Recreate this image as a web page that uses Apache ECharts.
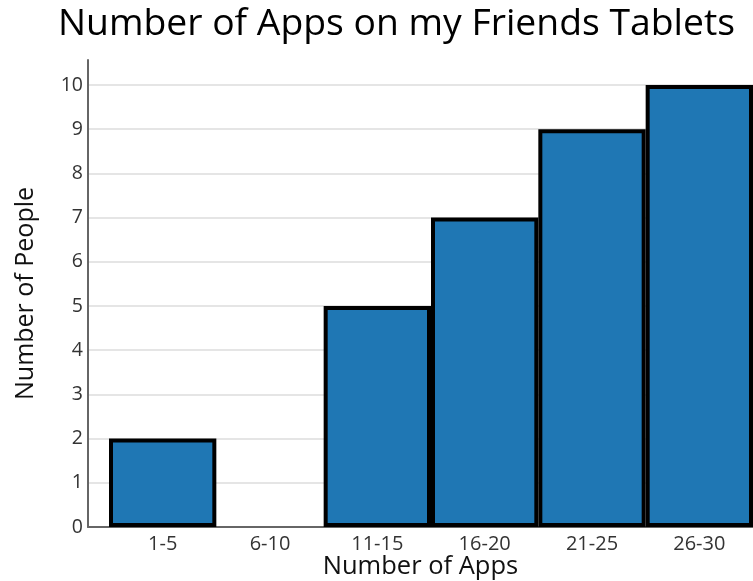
<!DOCTYPE html>
<html>
<head>
<meta charset="utf-8">
<script src="https://cdn.jsdelivr.net/npm/echarts@6/dist/echarts.min.js"></script>
<style>html,body{margin:0;padding:0;background:#fff}#c{width:753px;height:581px}</style>
</head>
<body>
<div id="c"></div>
<script>
const categories = ['1-5', '6-10', '11-15', '16-20', '21-25', '26-30'];
const people = [2, 0, 5, 7, 9, 10];
const yTicks = [0, 1, 2, 3, 4, 5, 6, 7, 8, 9, 10];

const FONT = '"Open Sans", "Noto Sans", sans-serif';
const chart = echarts.init(document.getElementById('c'));
const yMax = yTicks[yTicks.length - 1];
const gridBase = { outerBoundsMode: 'none', containLabel: false };
chart.setOption({
  animation: false,
  backgroundColor: '#fff',
  title: {
    text: 'Number of Apps on my Friends Tablets',
    left: 53, top: 1,
    textStyle: { fontFamily: FONT, fontSize: 37.3, fontWeight: 'normal', color: '#000' }
  },
  grid: [
    Object.assign({ left: 109, right: 0, top: 85, bottom: 54 }, gridBase),
    Object.assign({ left: 88, right: 0, top: 60, bottom: 54 }, gridBase),
    Object.assign({ left: 88, right: 0, top: 85, bottom: 54 }, gridBase)
  ],
  xAxis: [
    { type: 'category', gridIndex: 0, data: categories,
      axisLine: { show: false }, axisTick: { show: false },
      axisLabel: { margin: 7, fontFamily: FONT, fontSize: 20, color: '#333' } },
    { type: 'value', gridIndex: 1, min: 0, max: 1,
      axisLine: { show: true, onZero: false, lineStyle: { color: '#666', width: 2 } },
      axisTick: { show: false }, axisLabel: { show: false }, splitLine: { show: false },
      name: 'Number of Apps', nameLocation: 'middle', nameGap: 27,
      nameTextStyle: { fontFamily: FONT, fontSize: 25.5, color: '#111', verticalAlign: 'top' } },
    { type: 'value', gridIndex: 2, min: 0, max: 1, show: false }
  ],
  yAxis: [
    { type: 'value', gridIndex: 0, min: 0, max: yMax, show: false },
    { type: 'value', gridIndex: 1, min: 0, max: 1,
      axisLine: { show: true, onZero: false, lineStyle: { color: '#666', width: 2 } },
      axisTick: { show: false }, axisLabel: { show: false }, splitLine: { show: false },
      name: 'Number of People', nameLocation: 'middle', nameGap: 50,
      nameTextStyle: { fontFamily: FONT, fontSize: 25, color: '#111' } },
    { type: 'value', gridIndex: 2, min: 0, max: yMax, interval: 1,
      axisLine: { show: false }, axisTick: { show: false },
      axisLabel: { margin: 5, fontFamily: FONT, fontSize: 19.5, color: '#333',
        formatter: v => yTicks.includes(v) ? String(v) : '' },
      splitLine: { show: true, lineStyle: { color: '#dcdcdc', width: 1.5 } } }
  ],
  series: [{
    type: 'bar', xAxisIndex: 0, yAxisIndex: 0,
    data: people.map(v => v === 0 ? { value: v, itemStyle: { borderWidth: 0 } } : v),
    barWidth: '100%', barCategoryGap: '0%',
    itemStyle: { color: '#1f77b4', borderColor: '#000', borderWidth: 4 },
    z: 5
  }]
});
</script>
</body>
</html>
